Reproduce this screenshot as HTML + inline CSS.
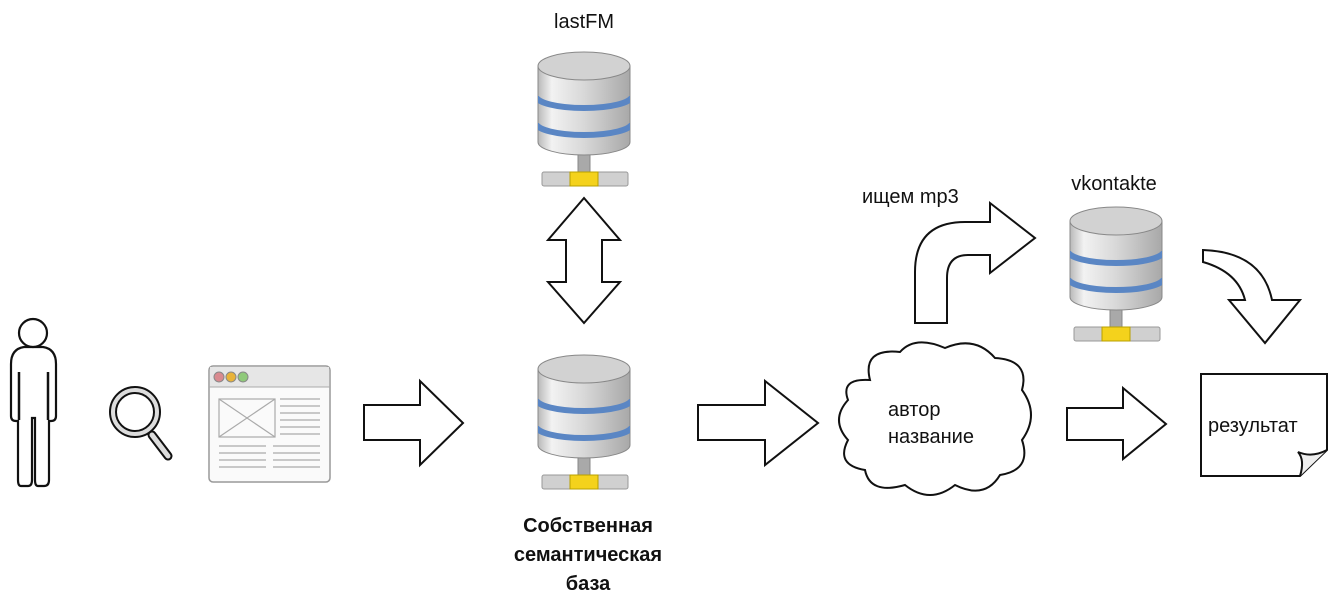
<!DOCTYPE html>
<html><head><meta charset="utf-8"><style>
html,body{margin:0;padding:0;background:#fff;}
svg{display:block;}
text{font-family:"Liberation Sans",sans-serif;fill:#111;}
</style></head><body>
<svg width="1338" height="608" viewBox="0 0 1338 608" xmlns="http://www.w3.org/2000/svg">
<defs>
<linearGradient id="cyl" x1="0" x2="1" y1="0" y2="0">
<stop offset="0" stop-color="#b9b9b9"/><stop offset="0.15" stop-color="#f2f2f2"/><stop offset="0.5" stop-color="#d8d8d8"/><stop offset="1" stop-color="#a8a8a8"/>
</linearGradient>
<clipPath id="bodyclip"><path d="M-4,10 L-4,86 A46,13 0 0 0 88,86 L88,10 Z"/></clipPath>
<g id="db">
<rect x="36" y="94" width="12" height="22" fill="#a9a9a9" stroke="#888"/>
<rect x="0" y="116" width="86" height="14" rx="2" fill="#d0d0d0" stroke="#999"/>
<rect x="28" y="116" width="28" height="14" fill="#f4d21c" stroke="#b8a000"/>
<path d="M-4,10 L-4,86 A46,13 0 0 0 88,86 L88,10 Z" fill="url(#cyl)" stroke="#888"/>
<g clip-path="url(#bodyclip)">
<path d="M-6,40 A48,12 0 0 0 90,40" fill="none" stroke="#5a86c4" stroke-width="6"/>
<path d="M-6,67 A48,12 0 0 0 90,67" fill="none" stroke="#5a86c4" stroke-width="6"/>
</g>
<ellipse cx="42" cy="10" rx="46" ry="14" fill="#d2d2d2" stroke="#888"/>
</g>
</defs>

<use href="#db" transform="translate(542,56)"/>
<use href="#db" transform="translate(542,359)"/>
<use href="#db" transform="translate(1074,211)"/>

<text x="584" y="28" font-size="20" text-anchor="middle">lastFM</text>
<text x="1114" y="190" font-size="20" text-anchor="middle">vkontakte</text>
<text x="862" y="203" font-size="20">ищем mp3</text>
<g font-size="20" font-weight="bold" text-anchor="middle">
<text x="588" y="532">Собственная</text>
<text x="588" y="561">семантическая</text>
<text x="588" y="590">база</text>
</g>

<g fill="#fff" stroke="#111" stroke-width="2" stroke-linejoin="miter">
<path d="M584,198 L620,240 L602,240 L602,282 L620,282 L584,323 L548,282 L566,282 L566,240 L548,240 Z"/>
<path d="M364,405 L420,405 L420,381 L463,423 L420,465 L420,440 L364,440 Z"/>
<path d="M698,405 L765,405 L765,381 L818,423 L765,465 L765,440 L698,440 Z"/>
<path d="M1067,408 L1123,408 L1123,388 L1166,424 L1123,459 L1123,440 L1067,440 Z"/>
<path d="M915,323 L915,272 Q915,222 965,222 L990,222 L990,203 L1035,238 L990,273 L990,255 L968,255 Q947,255 947,278 L947,323 Z"/>
<path d="M1203,250 Q1262,252 1272,300 L1300,300 L1265,343 L1229,300 L1245,300 Q1238,272 1203,262 Z"/>
<path d="M870,380 Q862,348 900,352 Q915,335 945,348 Q975,335 995,358 Q1030,360 1022,390 Q1040,415 1022,440 Q1032,470 1000,475 Q985,500 955,485 Q930,505 905,485 Q870,495 865,470 Q835,465 848,440 Q830,420 848,400 Q840,378 870,380 Z"/>
<path d="M1201,374 L1327,374 L1327,450 L1300,476 L1201,476 Z"/>
<path d="M1300,476 Q1305,460 1298,452 Q1312,458 1327,450" fill="#eee"/>
</g>
<text x="888" y="416" font-size="20">автор</text>
<text x="888" y="443" font-size="20">название</text>
<text x="1208" y="432" font-size="20">результат</text>

<g fill="#fff" stroke="#111" stroke-width="2.2">
<path d="M24,347 L43,347 Q56,349 56,364 L56,416 Q56,421 51,421 L49,421 L49,480 Q49,486 44,486 L38,486 Q35,486 35,480 L35,418 L32,418 L32,480 Q32,486 28,486 L21,486 Q18,486 18,480 L18,421 L16,421 Q11,421 11,416 L11,364 Q11,349 24,347 Z"/>
<circle cx="33" cy="333" r="14"/>
</g>
<line x1="19" y1="372" x2="19" y2="420" stroke="#111" stroke-width="2.5"/>
<line x1="48" y1="372" x2="48" y2="420" stroke="#111" stroke-width="2.5"/>
<line x1="152" y1="435" x2="168" y2="456" stroke="#111" stroke-width="9" stroke-linecap="round"/>
<line x1="152" y1="435" x2="168" y2="456" stroke="#ddd" stroke-width="5" stroke-linecap="round"/>
<circle cx="135" cy="412" r="25" fill="#ddd" stroke="#111" stroke-width="2"/>
<circle cx="135" cy="412" r="19" fill="#fff" stroke="#111" stroke-width="2"/>
<rect x="209" y="366" width="121" height="116" rx="4" fill="#fafafa" stroke="#999" stroke-width="1.5"/>
<rect x="210" y="367" width="119" height="20" fill="#e6e6e6"/>
<line x1="209" y1="387" x2="330" y2="387" stroke="#aaa"/>
<circle cx="219" cy="377" r="5" fill="#d98a8f" stroke="#888"/>
<circle cx="231" cy="377" r="5" fill="#e8b33a" stroke="#888"/>
<circle cx="243" cy="377" r="5" fill="#8fc97a" stroke="#888"/>
<g stroke="#aaa" stroke-width="1.2" fill="none">
<rect x="219" y="399" width="56" height="38"/>
<line x1="219" y1="399" x2="275" y2="437"/><line x1="275" y1="399" x2="219" y2="437"/>
<line x1="280" y1="399" x2="320" y2="399"/><line x1="280" y1="406" x2="320" y2="406"/>
<line x1="280" y1="413" x2="320" y2="413"/><line x1="280" y1="420" x2="320" y2="420"/>
<line x1="280" y1="427" x2="320" y2="427"/><line x1="280" y1="434" x2="320" y2="434"/>
<line x1="219" y1="446" x2="266" y2="446"/><line x1="273" y1="446" x2="320" y2="446"/>
<line x1="219" y1="453" x2="266" y2="453"/><line x1="273" y1="453" x2="320" y2="453"/>
<line x1="219" y1="460" x2="266" y2="460"/><line x1="273" y1="460" x2="320" y2="460"/>
<line x1="219" y1="467" x2="266" y2="467"/><line x1="273" y1="467" x2="320" y2="467"/>
</g>
</svg>
</body></html>
